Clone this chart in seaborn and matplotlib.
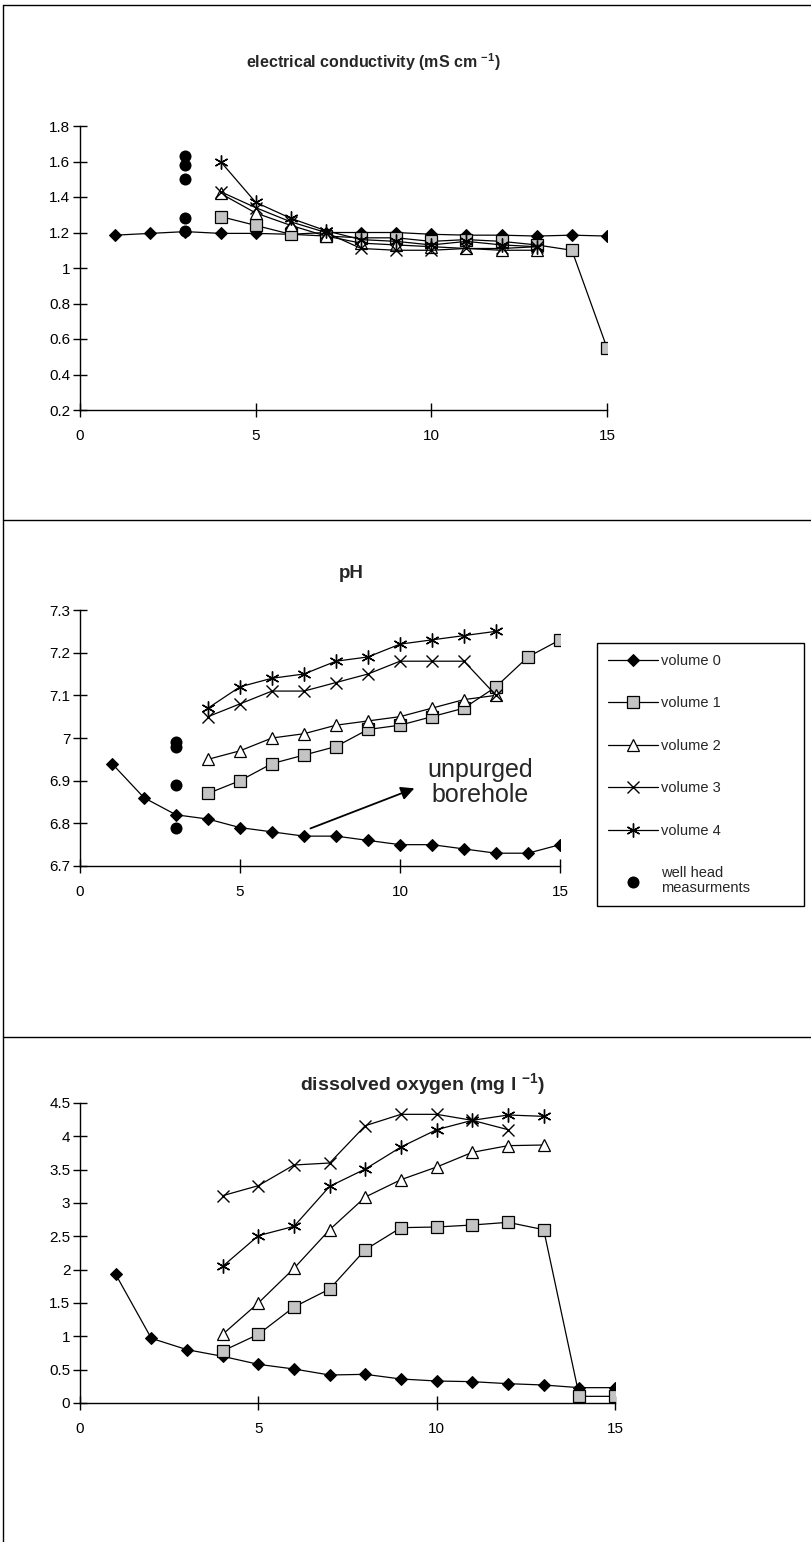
import matplotlib
matplotlib.use("Agg")
import matplotlib.pyplot as plt
from matplotlib.lines import Line2D
from matplotlib.ticker import FixedLocator, FuncFormatter
import pandas as pd
import seaborn as sns

# ---- data -------------------------------------------------------------
x_vol0 = list(range(1, 16))
x_well = [3, 3, 3, 3, 3]

# electrical conductivity (mS cm-1)
ec_x1 = list(range(4, 16))
ec_x234 = list(range(4, 14))
ec_vol0 = [1.185, 1.195, 1.205, 1.195, 1.195, 1.19, 1.20, 1.20, 1.20, 1.19, 1.185, 1.185, 1.18, 1.185, 1.18]
ec_vol1 = [1.29, 1.24, 1.19, 1.18, 1.17, 1.17, 1.15, 1.16, 1.15, 1.13, 1.10, 0.55]
ec_vol2 = [1.42, 1.31, 1.24, 1.18, 1.14, 1.13, 1.12, 1.11, 1.10, 1.10]
ec_vol3 = [1.43, 1.34, 1.26, 1.20, 1.11, 1.10, 1.10, 1.11, 1.11, 1.12]
ec_vol4 = [1.60, 1.37, 1.28, 1.21, 1.16, 1.15, 1.13, 1.15, 1.13, 1.12]
ec_well = [1.63, 1.58, 1.50, 1.28, 1.21]

# pH
ph_x1 = list(range(4, 16))
ph_x234 = list(range(4, 14))
ph_vol0 = [6.94, 6.86, 6.82, 6.81, 6.79, 6.78, 6.77, 6.77, 6.76, 6.75, 6.75, 6.74, 6.73, 6.73, 6.75]
ph_vol1 = [6.87, 6.90, 6.94, 6.96, 6.98, 7.02, 7.03, 7.05, 7.07, 7.12, 7.19, 7.23]
ph_vol2 = [6.95, 6.97, 7.00, 7.01, 7.03, 7.04, 7.05, 7.07, 7.09, 7.10]
ph_vol3 = [7.05, 7.08, 7.11, 7.11, 7.13, 7.15, 7.18, 7.18, 7.18, 7.10]
ph_vol4 = [7.07, 7.12, 7.14, 7.15, 7.18, 7.19, 7.22, 7.23, 7.24, 7.25]
ph_well = [6.99, 6.98, 6.89, 6.79]

# dissolved oxygen (mg l-1)
do_x1 = list(range(4, 16))
do_x2 = list(range(4, 14))
do_x3 = list(range(4, 13))
do_x4 = list(range(4, 14))
do_vol0 = [1.93, 0.97, 0.80, 0.70, 0.58, 0.51, 0.42, 0.43, 0.36, 0.33, 0.32, 0.29, 0.27, 0.23, 0.23]
do_vol1 = [0.78, 1.03, 1.44, 1.71, 2.30, 2.63, 2.64, 2.67, 2.71, 2.60, 0.10, 0.10]
do_vol2 = [1.03, 1.50, 2.02, 2.60, 3.09, 3.35, 3.54, 3.76, 3.86, 3.87]
do_vol3 = [3.11, 3.26, 3.57, 3.60, 4.16, 4.33, 4.33, 4.24, 4.10]
do_vol4 = [2.05, 2.51, 2.65, 3.25, 3.51, 3.84, 4.10, 4.24, 4.32, 4.30]

series_names = ["volume 0", "volume 1", "volume 2", "volume 3", "volume 4"]
well_label = "well head\nmeasurments"

# ---- styling ----------------------------------------------------------
sns.set_style("white")
plt.rcParams["font.family"] = ["Liberation Sans", "DejaVu Sans"]
plt.rcParams["mathtext.fontset"] = "custom"
plt.rcParams["mathtext.rm"] = "Liberation Sans"
plt.rcParams["mathtext.bf"] = "Liberation Sans:bold"

marker_styles = {
    "volume 0": dict(marker="D", markersize=6.5, markerfacecolor="black", markeredgecolor="black"),
    "volume 1": dict(marker="s", markersize=8, markerfacecolor="#c4c4c4", markeredgecolor="black", markeredgewidth=0.9),
    "volume 2": dict(marker="^", markersize=9, markerfacecolor="white", markeredgecolor="black", markeredgewidth=0.9),
    "volume 3": dict(marker="x", markersize=8.5, markeredgecolor="black", markeredgewidth=1.0),
    "volume 4": dict(marker=(6, 2, 0), markersize=10, markeredgecolor="black", markeredgewidth=1.0),
}

W, H = 811, 1542
fig = plt.figure(figsize=(W / 100, H / 100), dpi=100)
fig.patch.set_facecolor("white")


def panel(left, right, top, bottom):
    return fig.add_axes([left / W, 1 - bottom / H, (right - left) / W, (bottom - top) / H])


def draw_series(ax, xs, ys, name):
    df = pd.DataFrame({"x": xs, "y": ys})
    sns.lineplot(data=df, x="x", y="y", ax=ax, color="black", linewidth=0.9,
                 label=name, legend=False, **marker_styles[name])


def draw_well(ax, ys):
    df = pd.DataFrame({"x": x_well[: len(ys)], "y": ys})
    sns.scatterplot(data=df, x="x", y="y", ax=ax, color="black", s=75,
                    edgecolor="black", linewidth=0, marker="o", label=well_label, legend=False)


def format_axes(ax, ymin, ymax, ystep):
    ax.set_xlim(0, 15)
    ax.set_ylim(ymin, ymax)
    n = int(round((ymax - ymin) / ystep))
    yt = [round(ymin + i * ystep, 3) for i in range(n + 1)]
    ax.yaxis.set_major_locator(FixedLocator(yt))
    ax.xaxis.set_major_locator(FixedLocator([0, 5, 10, 15]))
    ax.yaxis.set_major_formatter(FuncFormatter(lambda v, p: f"{v:g}"))
    ax.xaxis.set_major_formatter(FuncFormatter(lambda v, p: f"{v:g}"))
    for s in ("top", "right"):
        ax.spines[s].set_visible(False)
    for s in ("left", "bottom"):
        ax.spines[s].set_linewidth(1.0)
        ax.spines[s].set_color("black")
    ax.tick_params(axis="both", which="major", bottom=True, left=True, top=False, right=False,
                   direction="inout", length=10, width=1.0, colors="black", labelsize=11)
    ax.tick_params(axis="y", pad=2)
    ax.tick_params(axis="x", pad=9)
    ax.set_xlabel("")
    ax.set_ylabel("")
    ax.patch.set_alpha(0)


# ---- electrical conductivity --------------------------------------------
ax1 = panel(80, 607, 126, 410)
draw_series(ax1, x_vol0, ec_vol0, "volume 0")
draw_series(ax1, ec_x1, ec_vol1, "volume 1")
draw_series(ax1, ec_x234, ec_vol2, "volume 2")
draw_series(ax1, ec_x234, ec_vol3, "volume 3")
draw_series(ax1, ec_x234, ec_vol4, "volume 4")
draw_well(ax1, ec_well)
format_axes(ax1, 0.2, 1.8, 0.2)
fig.text(373 / W, 1 - 62 / H, r"electrical conductivity (mS cm $^{\mathbf{-1}}$)",
         ha="center", va="center", fontsize=11.5, fontweight="bold")

# ---- pH -----------------------------------------------------------------
ax2 = panel(80, 560, 610, 866)
draw_series(ax2, x_vol0, ph_vol0, "volume 0")
draw_series(ax2, ph_x1, ph_vol1, "volume 1")
draw_series(ax2, ph_x234, ph_vol2, "volume 2")
draw_series(ax2, ph_x234, ph_vol3, "volume 3")
draw_series(ax2, ph_x234, ph_vol4, "volume 4")
draw_well(ax2, ph_well)
format_axes(ax2, 6.7, 7.3, 0.1)
fig.text(351 / W, 1 - 573 / H, "pH", ha="center", va="center", fontsize=13.5, fontweight="bold")

ax2.annotate("", xy=(10.45, 6.882), xytext=(7.2, 6.788),
             arrowprops=dict(arrowstyle="-|>,head_length=0.8,head_width=0.4",
                             color="black", lw=1.3, shrinkA=0, shrinkB=0))
ax2.text(12.5, 6.925, "unpurged", ha="center", va="center", fontsize=18)
ax2.text(12.5, 6.866, "borehole", ha="center", va="center", fontsize=18)

handles, labels = ax2.get_legend_handles_labels()
leg = fig.legend(handles, labels, loc="upper left",
                 bbox_to_anchor=(597 / W, 1 - 907 / H, 207 / W, 264 / H),
                 bbox_transform=fig.transFigure, mode="expand",
                 frameon=True, fancybox=False, edgecolor="black", framealpha=1,
                 fontsize=10.5, labelspacing=1.95, handlelength=3.4, handletextpad=0.25,
                 borderpad=0.75, borderaxespad=0)
leg.get_frame().set_linewidth(1.0)
for t in leg.get_texts():
    t.set_linespacing(1.1)

# ---- dissolved oxygen ---------------------------------------------------
ax3 = panel(80, 615, 1103, 1403)
draw_series(ax3, x_vol0, do_vol0, "volume 0")
draw_series(ax3, do_x1, do_vol1, "volume 1")
draw_series(ax3, do_x2, do_vol2, "volume 2")
draw_series(ax3, do_x3, do_vol3, "volume 3")
draw_series(ax3, do_x4, do_vol4, "volume 4")
format_axes(ax3, 0, 4.5, 0.5)
fig.text(422 / W, 1 - 1085 / H, r"dissolved oxygen (mg l $^{\mathbf{-1}}$)",
         ha="center", va="center", fontsize=14, fontweight="bold")

# ---- table frame around the three panels --------------------------------
for y in (5, 520, 1037):
    fig.add_artist(Line2D([3 / W, 1], [1 - y / H, 1 - y / H], transform=fig.transFigure,
                          color="black", lw=1.0))
fig.add_artist(Line2D([3 / W, 3 / W], [0, 1 - 5 / H], transform=fig.transFigure,
                      color="black", lw=1.0))

fig.savefig("out.png", dpi=100, facecolor="white")
